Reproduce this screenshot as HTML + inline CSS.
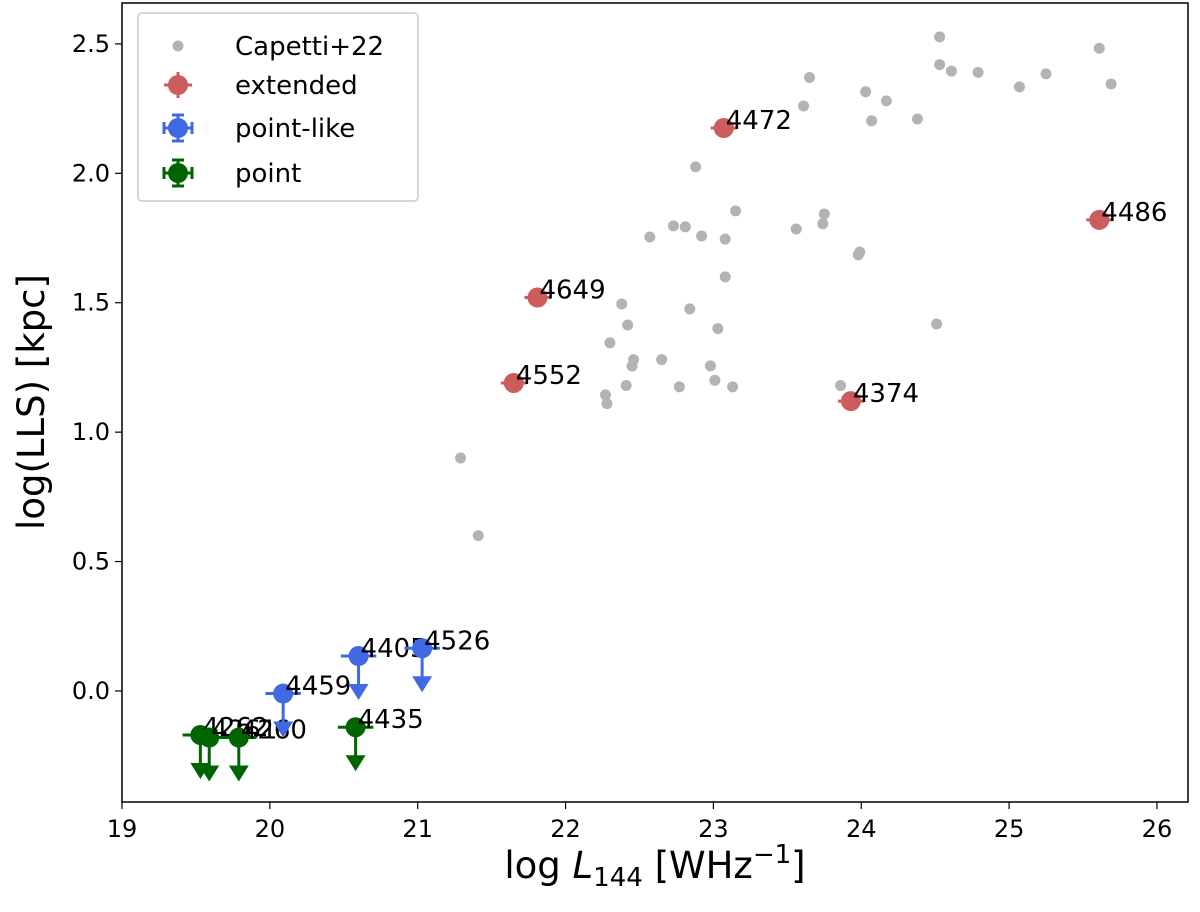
<!DOCTYPE html>
<html><head><meta charset="utf-8"><style>
body{margin:0;background:#fff;}
svg{display:block;font-family:"DejaVu Sans","Liberation Sans",sans-serif;}
</style></head><body>
<svg id="c" width="1200" height="912"></svg>
<script>
const greyX=[21.29,21.41,22.27,22.28,22.30,22.41,22.45,22.46,22.38,22.42,22.65,22.57,22.73,22.81,22.77,22.92,22.84,22.88,22.98,23.01,23.03,23.08,23.08,23.13,23.15,23.56,23.61,23.65,23.75,23.74,23.86,23.99,23.98,24.03,24.07,24.17,24.38,24.51,24.53,24.53,24.61,24.79,25.07,25.25,25.61,25.69];
const greyY=[0.90,0.60,1.144,1.11,1.345,1.18,1.255,1.28,1.495,1.414,1.28,1.754,1.797,1.793,1.175,1.758,1.476,2.025,1.256,1.20,1.40,1.60,1.746,1.175,1.855,1.785,2.26,2.37,1.843,1.805,1.18,1.696,1.685,2.315,2.203,2.28,2.21,1.418,2.527,2.42,2.395,2.39,2.334,2.384,2.483,2.345];
const extNames=["4472","4486","4649","4552","4374"];
const extX=[23.07,25.61,21.81,21.65,23.93];
const extY=[2.175,1.82,1.52,1.19,1.12];
const plNames=["4459","4405","4526"];
const plX=[20.09,20.60,21.03];
const plY=[-0.01,0.135,0.165];
const ptNames=["4262","4261","4260","4435"];
const ptX=[19.53,19.59,19.79,20.58];
const ptY=[-0.17,-0.18,-0.18,-0.14];
const xTicks=[19,20,21,22,23,24,25,26];
const yTicks=[0.0,0.5,1.0,1.5,2.0,2.5];

const L=122,R=1188,T=3,B=802,x0=19,x1=26.21,y0=-0.429,y1=2.658;
const sx=v=>L+(v-x0)/(x1-x0)*(R-L);
const sy=v=>B-(v-y0)/(y1-y0)*(B-T);
const svg=document.getElementById('c');
const NS='http://www.w3.org/2000/svg';
function mk(t,a,p){const e=document.createElementNS(NS,t);for(const k in a)e.setAttribute(k,a[k]);(p||svg).appendChild(e);return e;}
function txt(s,a,p){const e=mk('text',a,p);e.textContent=s;return e;}

xTicks.forEach(v=>{
 const l=mk('line',{x1:sx(v),x2:sx(v),y1:B,y2:B+7,stroke:'#000','stroke-width':1.2});
 
 
 const t=txt(String(v),{x:sx(v),y:B+35,'font-size':24,'text-anchor':'middle'});
 
 
});
yTicks.forEach(v=>{
 const l=mk('line',{x1:L-7,x2:L,y1:sy(v),y2:sy(v),stroke:'#000','stroke-width':1.2});
 
 
 const t=txt(v.toFixed(1),{x:L-12,y:sy(v)+8,'font-size':24,'text-anchor':'end'});
 
 
});

greyX.forEach((v,i)=>{
 const c=mk('circle',{cx:sx(v),cy:sy(greyY[i]),r:5.5,fill:'#b3b3b3'});
 
 
});

function upper(x,y,col,name,cls){
 const g=mk('g',{});
 
 
 const px=sx(x),py=sy(y);
 mk('line',{x1:sx(x-0.12),x2:sx(x+0.12),y1:py,y2:py,stroke:col,'stroke-width':3},g);
 const ay=sy(y-0.17);
 mk('line',{x1:px,x2:px,y1:py,y2:ay-10,stroke:col,'stroke-width':3},g);
 mk('polygon',{points:`${px-10},${ay-16} ${px+10},${ay-16} ${px},${ay}`,fill:col},g);
 mk('circle',{cx:px,cy:py,r:10,fill:col},g);
 txt(name,{x:px+2,y:py+1,'font-size':26},g);
}
ptX.forEach((v,i)=>upper(v,ptY[i],'#006400',ptNames[i],'point'));
plX.forEach((v,i)=>upper(v,plY[i],'#4169e1',plNames[i],'point-like'));
extX.forEach((v,i)=>{
 const g=mk('g',{});
 
 
 const px=sx(v),py=sy(extY[i]);
 mk('line',{x1:px-13,x2:px+13,y1:py,y2:py,stroke:'#cd5c5c','stroke-width':3},g);
 mk('circle',{cx:px,cy:py,r:10,fill:'#cd5c5c'},g);
 txt(extNames[i],{x:px+2,y:py+1,'font-size':26},g);
});

const f=mk('rect',{x:L,y:T,width:R-L,height:B-T,fill:'none',stroke:'#000','stroke-width':1.5});



const xl=mk('text',{x:655,y:878,'font-size':37,'text-anchor':'middle'});


xl.innerHTML='log <tspan font-style="italic">L</tspan><tspan font-size="26" dy="8">144</tspan><tspan dy="-8"> [WHz</tspan><tspan font-size="26" dy="-15">−1</tspan><tspan dy="15">]</tspan>';
const yl=txt('log(LLS) [kpc]',{x:0,y:0,'font-size':37,'text-anchor':'middle',transform:'translate(44,402) rotate(-90)'});



const lg=mk('g',{});


mk('rect',{x:138,y:13,width:280,height:188,rx:4,fill:'#fff',stroke:'#ccc','stroke-width':1.5},lg);
const legNames=['Capetti+22','extended','point-like','point'];
const legCols=['#b3b3b3','#cd5c5c','#4169e1','#006400'];
const legY=[46,85,128,173];
legNames.forEach((n,i)=>{
 const e=mk('g',{},lg);
 
 
 const y=legY[i],c=legCols[i];
 if(i==0){mk('circle',{cx:178,cy:y,r:5.5,fill:c},e);}
 else{
  mk('line',{x1:164,x2:192,y1:y,y2:y,stroke:c,'stroke-width':3},e);
  mk('line',{x1:178,x2:178,y1:y-13,y2:y+13,stroke:c,'stroke-width':3},e);
  if(i>1){mk('line',{x1:164,x2:164,y1:y-6,y2:y+6,stroke:c,'stroke-width':3},e);mk('line',{x1:192,x2:192,y1:y-6,y2:y+6,stroke:c,'stroke-width':3},e);
   mk('line',{x1:172,x2:184,y1:y-13,y2:y-13,stroke:c,'stroke-width':3},e);mk('line',{x1:172,x2:184,y1:y+13,y2:y+13,stroke:c,'stroke-width':3},e);}
  mk('circle',{cx:178,cy:y,r:10,fill:c},e);
 }
 txt(n,{x:235,y:y+9,'font-size':26},e);
});
</script>
</body></html>
